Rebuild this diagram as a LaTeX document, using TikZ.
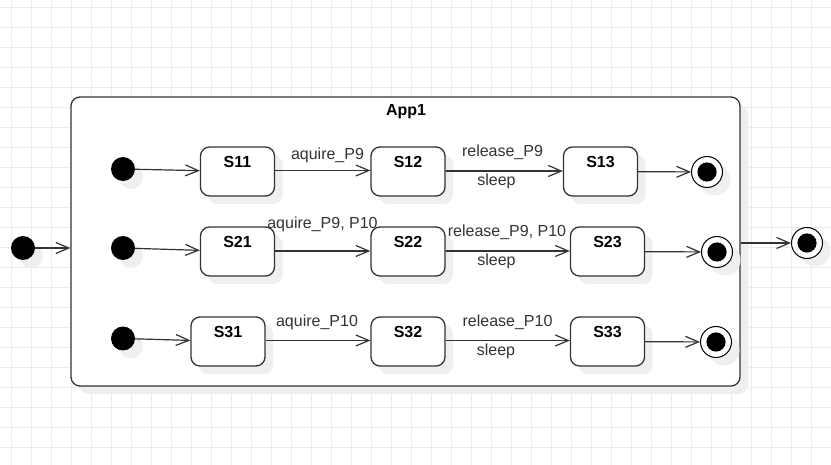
\documentclass[tikz,border=0pt]{standalone}
\usepackage{fontspec}
\setmainfont{Liberation Sans}
\usetikzlibrary{arrows.meta,shadows}
\definecolor{gridc}{HTML}{EBEBEB}
\definecolor{shadc}{HTML}{EFEFEF}
\definecolor{ink}{HTML}{333333}
\begin{document}
\begin{tikzpicture}[x=1pt,y=-1pt,
  shad/.style={drop shadow={shadow xshift=8pt,shadow yshift=-8pt,fill=shadc,opacity=1}},
  app/.style={draw=ink,line width=1.3pt,rounded corners=9pt,fill=white,shad,
    minimum width=669pt,minimum height=289pt,inner sep=0pt},
  state/.style={draw=ink,line width=1.3pt,rounded corners=9pt,fill=white,shad,
    minimum width=74pt,minimum height=49pt,inner sep=0pt},
  sname/.style={font=\fontsize{16}{19}\selectfont\bfseries,text=black,inner sep=0pt},
  initst/.style={circle,fill=black,minimum size=24pt,inner sep=0pt,shad},
  finalst/.style={circle,draw=black,line width=1pt,fill=white,minimum size=31pt,inner sep=0pt,shad,
    path picture={\fill[black] (path picture bounding box.center) circle (9.6pt);}},
  lbl/.style={font=\fontsize{16}{19}\selectfont,text=ink,inner sep=0pt},
  tr/.style={draw=ink,line width=1.2pt,-{Straight Barb[length=13pt,width=11pt,line width=1.2pt]}}
]
\useasboundingbox (0,0) rectangle (831,465);
% grid
\begin{scope}
\clip (0,0) rectangle (831,465);
\foreach \gx in {11.5,31.5,...,831} \draw[gridc,line width=1pt] (\gx,0) -- (\gx,465);
\foreach \gy in {7.3,27.3,...,465} \draw[gridc,line width=1pt] (0,\gy) -- (831,\gy);
\end{scope}
% container
\node[app] (app) at (405.5,241.5) {};
\node[sname] (title) at (406,112) {App1};
% outer initial/final
\node[initst] (i0) at (23,248) {};
\node[finalst] (f0) at (807,243) {};
% row 1
\node[initst] (i1) at (123,169) {};
\node[state] (s11) at (237.5,171.5) {};
\node[state] (s12) at (408,171.5) {};
\node[state] (s13) at (600.5,171.5) {};
\node[finalst] (f1) at (707,172) {};
% row 2
\node[initst] (i2) at (123,248) {};
\node[state] (s21) at (237.5,251.5) {};
\node[state] (s22) at (408,251.5) {};
\node[state] (s23) at (607.5,251.5) {};
\node[finalst] (f2) at (717,252) {};
% row 3
\node[initst] (i3) at (123,338.5) {};
\node[state] (s31) at (228,341.5) {};
\node[state] (s32) at (408,341.5) {};
\node[state] (s33) at (607.5,341.5) {};
\node[finalst] (f3) at (716,342) {};
% state names
\foreach \n/\t in {s11/S11,s12/S12,s13/S13,s21/S21,s22/S22,s23/S23,s31/S31,s32/S32,s33/S33}
  \node[sname] at ([yshift=-16pt]\n.north) {\t};
% transitions
\draw[tr] (i0) -- (i0 -| app.west);
\draw[tr] (f0 -| app.east) -- (f0);
\draw[tr] (i1) -- (s11);
\draw[tr] (s11.east |- 0,170.5) -- (s12.west |- 0,170.5);
\draw[tr] (s12.east |- 0,171) -- (s13.west |- 0,171);
\draw[tr] (s13) -- (f1);
\draw[tr] (i2) -- (s21);
\draw[tr] (s21.east |- 0,251) -- (s22.west |- 0,251);
\draw[tr] (s22.east |- 0,251) -- (s23.west |- 0,251);
\draw[tr] (s23) -- (f2);
\draw[tr] (i3) -- (s31);
\draw[tr] (s31.east |- 0,340.5) -- (s32.west |- 0,340.5);
\draw[tr] (s32.east |- 0,340.5) -- (s33.west |- 0,340.5);
\draw[tr] (s33) -- (f3);
% labels
\node[lbl] at (327.5,155) {aquire\_P9};
\node[lbl] at (502.5,152) {release\_P9};
\node[lbl] at (496.5,181.5) {sleep};
\node[lbl] at (322.5,224) {aquire\_P9, P10};
\node[lbl] at (507,232) {release\_P9, P10};
\node[lbl] at (496.5,261.5) {sleep};
\node[lbl] at (317,322) {aquire\_P10};
\node[lbl] at (507.5,322) {release\_P10};
\node[lbl] at (496,351.5) {sleep};
\end{tikzpicture}
\end{document}
